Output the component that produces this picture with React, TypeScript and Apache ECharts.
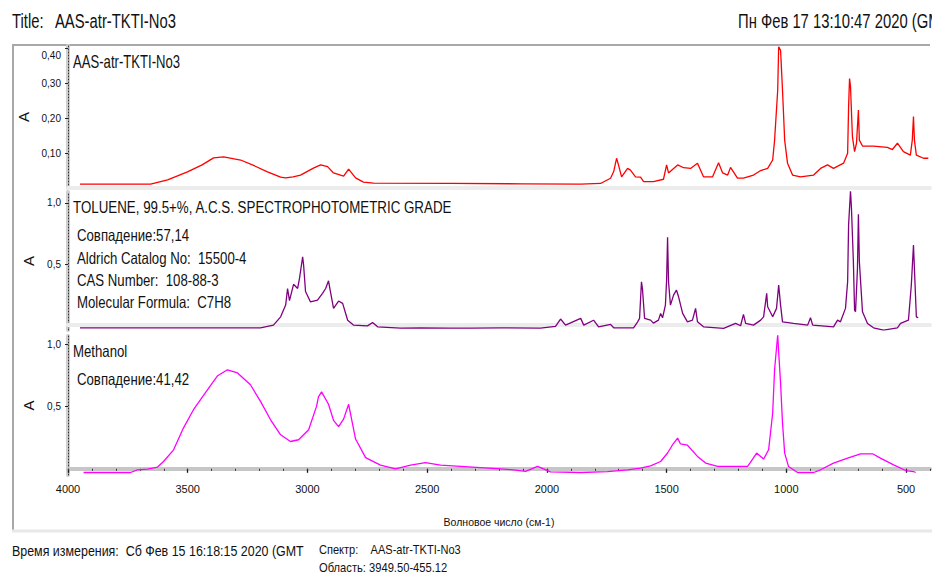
import React, { useEffect, useRef } from "react";
import * as echarts from "echarts";

// [wavenumber cm-1, absorbance]
const aasSpectrum: number[][] = [
  [3950, 0.011], [3655, 0.011], [3584, 0.023], [3501, 0.046], [3440, 0.066], [3392, 0.086],
  [3350, 0.089], [3279, 0.080], [3220, 0.063], [3167, 0.046], [3112, 0.031], [3091, 0.029],
  [3060, 0.032], [3029, 0.037], [2975, 0.057], [2945, 0.066], [2916, 0.061], [2891, 0.043],
  [2849, 0.034], [2828, 0.054], [2799, 0.029], [2766, 0.017], [2724, 0.014], [2400, 0.013],
  [2100, 0.012], [1859, 0.011], [1776, 0.013], [1734, 0.028], [1721, 0.047], [1709, 0.085],
  [1701, 0.066], [1688, 0.032], [1663, 0.056], [1651, 0.051], [1630, 0.032], [1609, 0.031],
  [1596, 0.018], [1555, 0.018], [1513, 0.025], [1500, 0.066], [1492, 0.043], [1454, 0.066],
  [1429, 0.058], [1400, 0.056], [1371, 0.071], [1346, 0.032], [1308, 0.032], [1283, 0.072],
  [1266, 0.043], [1245, 0.037], [1233, 0.059], [1204, 0.028], [1179, 0.028], [1137, 0.037],
  [1107, 0.050], [1078, 0.056], [1057, 0.080], [1049, 0.137], [1036, 0.280], [1032, 0.404],
  [1024, 0.394], [1016, 0.280], [1007, 0.137], [995, 0.071], [974, 0.037], [941, 0.032],
  [886, 0.037], [857, 0.056], [828, 0.066], [803, 0.056], [761, 0.071], [744, 0.099],
  [740, 0.232], [736, 0.313], [732, 0.290], [724, 0.147], [715, 0.104], [707, 0.128],
  [699, 0.223], [695, 0.137], [682, 0.120], [636, 0.120], [578, 0.116], [557, 0.110],
  [536, 0.128], [511, 0.104], [482, 0.094], [474, 0.137], [469, 0.204], [465, 0.137],
  [457, 0.094], [427, 0.085], [407, 0.085],
];

const tolueneSpectrum: number[][] = [
  [3950, -0.022], [3196, -0.022], [3142, 0.0], [3112, 0.068], [3091, 0.164], [3083, 0.30],
  [3075, 0.20], [3058, 0.334], [3041, 0.30], [3033, 0.385], [3020, 0.56], [3016, 0.49],
  [3008, 0.275], [2987, 0.19], [2958, 0.205], [2937, 0.26], [2924, 0.30], [2912, 0.363],
  [2904, 0.275], [2891, 0.137], [2870, 0.197], [2853, 0.178], [2832, 0.04], [2808, 0.0],
  [2749, -0.006], [2728, 0.022], [2707, -0.014], [2611, -0.025], [2528, -0.022], [2402, -0.025],
  [2319, -0.025], [2193, -0.022], [2027, -0.025], [1964, -0.01], [1943, 0.05], [1922, 0.0],
  [1859, 0.055], [1846, 0.0], [1805, 0.04], [1784, -0.014], [1734, 0.006], [1721, -0.022],
  [1638, -0.022], [1621, 0.027], [1613, 0.055], [1605, 0.355], [1601, 0.30], [1592, 0.055],
  [1567, 0.041], [1555, 0.016], [1534, 0.041], [1525, 0.096], [1517, 0.06], [1505, 0.164],
  [1500, 0.369], [1496, 0.72], [1492, 0.355], [1484, 0.164], [1471, 0.246], [1459, 0.287],
  [1450, 0.232], [1433, 0.096], [1413, 0.027], [1392, 0.041], [1379, 0.137], [1371, 0.027],
  [1346, -0.014], [1262, -0.027], [1212, 0.014], [1191, -0.005], [1179, 0.088], [1170, 0.014],
  [1137, 0.0], [1107, 0.041], [1095, 0.068], [1082, 0.26], [1078, 0.15], [1057, 0.068],
  [1041, 0.137], [1032, 0.328], [1024, 0.164], [1016, 0.027], [970, 0.014], [911, 0.0],
  [899, 0.06], [890, 0.0], [803, -0.014], [786, 0.041], [774, 0.027], [753, 0.137],
  [744, 0.355], [740, 0.82], [732, 1.098], [728, 0.956], [720, 0.52], [715, 0.123],
  [711, 0.109], [703, 0.46], [699, 0.907], [695, 0.52], [682, 0.109], [661, 0.014],
  [636, -0.022], [594, -0.041], [536, -0.022], [523, 0.014], [490, 0.041], [478, 0.328],
  [469, 0.656], [465, 0.46], [457, 0.068], [449, 0.06],
];

const methanolSpectrum: number[][] = [
  [3935, -0.03], [3877, -0.03], [3739, -0.03], [3710, -0.008], [3668, -0.002], [3626, 0.014],
  [3601, 0.059], [3559, 0.153], [3518, 0.328], [3476, 0.476], [3417, 0.637], [3375, 0.75],
  [3334, 0.798], [3292, 0.772], [3238, 0.677], [3196, 0.543], [3154, 0.395], [3112, 0.274],
  [3071, 0.22], [3037, 0.234], [2995, 0.315], [2962, 0.503], [2954, 0.58], [2941, 0.62],
  [2912, 0.52], [2891, 0.39], [2870, 0.34], [2849, 0.40], [2828, 0.52], [2799, 0.24],
  [2757, 0.09], [2695, 0.03], [2632, 0.0], [2569, 0.03], [2507, 0.05], [2444, 0.03],
  [2360, 0.02], [2277, 0.01], [2193, 0.0], [2131, -0.01], [2089, -0.02], [2039, 0.02],
  [1985, -0.025], [1859, -0.03], [1747, -0.022], [1663, -0.008], [1609, 0.006], [1567, 0.024],
  [1525, 0.059], [1496, 0.127], [1475, 0.194], [1454, 0.247], [1442, 0.20], [1413, 0.19],
  [1371, 0.10], [1337, 0.046], [1287, 0.019], [1162, 0.019], [1150, 0.051], [1124, 0.127],
  [1095, 0.078], [1074, 0.153], [1057, 0.45], [1049, 0.80], [1036, 1.08], [1032, 0.94],
  [1024, 0.69], [1016, 0.37], [1007, 0.126], [991, 0.019], [953, -0.03], [886, -0.03],
  [857, -0.008], [803, 0.046], [744, 0.086], [690, 0.121], [640, 0.121], [607, 0.086],
  [552, 0.032], [502, -0.014], [469, -0.022], [460, -0.03],
];

const xMajorTicks = [500, 1000, 1500, 2000, 2500, 3000, 3500, 4000];
const xMinorTicks = [
  400, 500, 600, 700, 800, 900, 1000, 1100, 1200, 1300, 1400, 1500, 1600, 1700, 1800, 1900,
  2000, 2100, 2200, 2300, 2400, 2500, 2600, 2700, 2800, 2900, 3000, 3100, 3200, 3300, 3400,
  3500, 3600, 3700, 3800, 3900, 4000,
];
const topYTicks = [0.1, 0.2, 0.3, 0.4];
const lowerYTicks = [0.5, 1.0];

const SANS = "'Liberation Sans', Arial, sans-serif";

const comma = (v: number, d: number) => v.toFixed(d).replace(".", ",");

function makeYAxes(grid: number, min: number, max: number, ticks: number[], dec: number) {
  return [
    {
      type: "value",
      gridIndex: grid,
      min,
      max,
      position: "left",
      name: "A",
      nameLocation: "middle",
      nameRotate: 90,
      nameGap: 30,
      nameTextStyle: { fontSize: 15, color: "#111", fontFamily: SANS },
      axisLine: { show: true, lineStyle: { color: "#d0d0d0", width: 4 } },
      axisTick: { show: true, customValues: ticks, length: 3, lineStyle: { color: "#222", width: 1 } },
      axisLabel: {
        customValues: ticks,
        margin: 7,
        fontSize: 10,
        fontFamily: SANS,
        color: "#111",
        formatter: (v: number) => (grid === 0 && v >= 0.4 ? "{low|" + comma(v, dec) + "}" : comma(v, dec)),
        rich: { low: { fontSize: 10, fontFamily: SANS, color: "#111", padding: [14, 0, 0, 0] } },
      },
      splitLine: { show: false },
    },
    {
      type: "value",
      gridIndex: grid,
      min,
      max,
      position: "left",
      axisLine: { show: true, lineStyle: { color: "#333", width: 1, type: [1, 2] } },
      axisTick: { show: false },
      axisLabel: { show: false },
      splitLine: { show: false },
    },
  ];
}

function baseX(grid: number) {
  return {
    type: "value",
    gridIndex: grid,
    min: 400,
    max: 4000,
    inverse: true,
    position: "bottom",
    axisLine: { show: true, lineStyle: { color: "#ececec", width: 4 } },
    axisTick: { show: false },
    axisLabel: { show: false },
    splitLine: { show: false },
  };
}

export default function App() {
  const ref = useRef<HTMLDivElement>(null);
  useEffect(() => {
    document.body.style.margin = "0";
    if (!ref.current) return;
    const chart = echarts.init(ref.current, undefined, { renderer: "svg" });
    const txt = (text: string, x: number, y: number, size: number, sx: number) => ({
      type: "text",
      x,
      y,
      scaleX: sx,
      silent: true,
      style: { text, fontSize: size, fontFamily: SANS, fill: "#111", align: "left", verticalAlign: "middle" },
    });
    const option: any = {
      animation: false,
      backgroundColor: "#ffffff",
      grid: [
        { left: 68, right: 2, top: 46, height: 142 },
        { left: 68, right: 2, top: 192, height: 138 },
        { left: 68, right: 2, top: 336, height: 139 },
      ],
      xAxis: [
        baseX(0),
        baseX(1),
        {
          ...baseX(2),
          axisLine: { show: true, lineStyle: { color: "#c6c6c6", width: 4 } },
          axisTick: { show: true, customValues: xMajorTicks, length: 4, lineStyle: { color: "#111", width: 1.3 } },
          axisLabel: {
            show: true,
            customValues: xMajorTicks,
            margin: 8,
            fontSize: 11,
            fontFamily: SANS,
            color: "#111",
            formatter: (v: number) => String(v),
          },
          name: "Волновое число (см-1)",
          nameLocation: "middle",
          nameGap: 41,
          nameTextStyle: { fontSize: 10.5, fontFamily: SANS, color: "#111" },
        },
        {
          ...baseX(2),
          axisLine: { show: false },
          axisTick: { show: true, customValues: xMinorTicks, length: 2, lineStyle: { color: "#333", width: 1 } },
          axisLabel: { show: false },
        },
      ],
      yAxis: [
        ...makeYAxes(0, 0, 0.406, topYTicks, 2),
        ...makeYAxes(1, -0.04, 1.09, lowerYTicks, 1),
        ...makeYAxes(2, -0.05, 1.07, lowerYTicks, 1),
      ],
      series: [
        {
          type: "line",
          xAxisIndex: 0,
          yAxisIndex: 0,
          data: aasSpectrum,
          showSymbol: false,
          lineStyle: { color: "#ff0000", width: 1.3 },
          silent: true,
        },
        {
          type: "line",
          xAxisIndex: 1,
          yAxisIndex: 2,
          data: tolueneSpectrum,
          showSymbol: false,
          lineStyle: { color: "#800080", width: 1.3 },
          silent: true,
        },
        {
          type: "line",
          xAxisIndex: 2,
          yAxisIndex: 4,
          data: methanolSpectrum,
          showSymbol: false,
          lineStyle: { color: "#ff00ff", width: 1.3 },
          silent: true,
        },
      ],
      graphic: [
        { type: "line", shape: { x1: 13, y1: 44, x2: 13, y2: 532 }, style: { stroke: "#a8a8a8", lineWidth: 2 }, silent: true },
        { type: "line", shape: { x1: 12, y1: 45, x2: 930, y2: 45 }, style: { stroke: "#a8a8a8", lineWidth: 2 }, silent: true },
        { type: "line", shape: { x1: 12, y1: 531, x2: 932, y2: 531 }, style: { stroke: "#e8e8e8", lineWidth: 3 }, silent: true },
        txt("Title:", 12, 21, 19.5, 0.76),
        txt("AAS-atr-TKTI-No3", 55, 21, 19.5, 0.76),
        txt("Пн Фев 17 13:10:47 2020 (GM", 738, 21, 19.5, 0.76),
        txt("AAS-atr-TKTI-No3", 73, 62, 17.5, 0.75),
        txt("TOLUENE, 99.5+%, A.C.S. SPECTROPHOTOMETRIC GRADE", 73, 207, 17, 0.785),
        txt("Совпадение:57,14", 77, 235, 16.5, 0.8),
        txt("Aldrich Catalog No:  15500-4", 77, 257.5, 16.5, 0.8),
        txt("CAS Number:  108-88-3", 77, 280, 16.5, 0.8),
        txt("Molecular Formula:  C7H8", 77, 301.5, 16.5, 0.8),
        txt("Methanol", 73, 351, 16.5, 0.8),
        txt("Совпадение:41,42", 77, 379, 16.5, 0.8),
        txt("Время измерения:  Сб Фев 15 16:18:15 2020 (GMT", 12, 551, 15, 0.83),
        txt("Спектр:    AAS-atr-TKTI-No3", 319, 550, 13, 0.85),
        txt("Область: 3949.50-455.12", 319, 568, 13, 0.86),
      ],
    };
    chart.setOption(option);
    return () => chart.dispose();
  }, []);
  return <div ref={ref} style={{ width: 932, height: 576, overflow: "hidden" }} />;
}
